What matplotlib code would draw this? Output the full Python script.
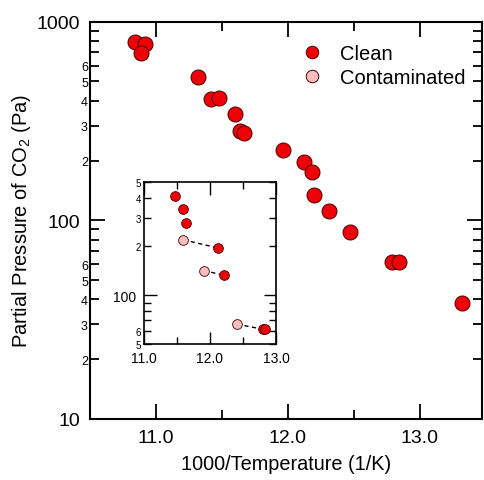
import matplotlib
matplotlib.use('Agg')
import math
import matplotlib.pyplot as plt
from matplotlib.ticker import FixedLocator, FuncFormatter, NullFormatter
from matplotlib.lines import Line2D

plt.rcParams['font.family'] = ['Liberation Sans', 'DejaVu Sans']

# main panel: clean samples
x_clean = [10.84, 10.917, 10.889, 11.32, 11.417, 11.48, 11.60, 11.64, 11.67,
           11.965, 12.124, 12.18, 12.197, 12.31, 12.47, 12.786, 12.843, 13.316]
y_clean = [793, 771, 695, 527, 408, 412, 344, 281, 276,
           226, 197, 175, 134, 111, 86.9, 61.8, 61.8, 38.5]

# inset: clean and contaminated
xi_clean = [11.477, 11.60, 11.64, 12.12, 12.21, 12.80, 12.84]
yi_clean = [407, 343, 281, 196, 133, 61.7, 61.7]
xi_cont = [11.60, 11.91, 12.41]
yi_cont = [220, 142, 66.3]
# pairs contaminated -> clean (index into xi_clean)
pair_idx = [3, 4, 5]

red = '#EE0008'
pink = '#F5BFC0'
edge = '#4a0000'


def minor_lab(v, pos):
    d = round(v / 10 ** math.floor(math.log10(v) + 1e-9))
    return str(d) if d in (2, 3, 4, 5, 6) else ''


fig = plt.figure(figsize=(4.84, 4.81), dpi=100)
ax = fig.add_axes([90/484, 1-420/481, 392/484, 397.3/481])

ax.plot(x_clean, y_clean, 'o', ms=10.8, mfc=red, mec=edge, mew=0.7, zorder=3)
ax.set_yscale('log')
ax.set_xlim(10.5, 13.47)
ax.set_ylim(10, 1000)

ax.yaxis.set_major_locator(FixedLocator([10, 100, 1000]))
ax.yaxis.set_major_formatter(FuncFormatter(lambda v, p: '%d' % v))
minors = [k * 10 ** e for e in (1, 2) for k in range(2, 10)]
ax.yaxis.set_minor_locator(FixedLocator(minors))
ax.yaxis.set_minor_formatter(FuncFormatter(minor_lab))

ax.xaxis.set_major_locator(FixedLocator([11.0, 12.0, 13.0]))
ax.xaxis.set_minor_locator(FixedLocator([11.5, 12.5]))
ax.xaxis.set_major_formatter(FuncFormatter(lambda v, p: '%.1f' % v))
ax.xaxis.set_minor_formatter(NullFormatter())

ax.tick_params(which='both', direction='in', top=True, right=True, width=1.3)
ax.tick_params(which='major', length=11, labelsize=14, pad=7)
ax.tick_params(which='minor', length=6.5)
ax.tick_params(axis='y', which='minor', labelsize=9, pad=1.5)
for s in ax.spines.values():
    s.set_linewidth(1.5)

ax.set_xlabel('1000/Temperature (1/K)', fontsize=14.3, labelpad=6)
ax.set_ylabel('Partial Pressure of CO$_\\mathregular{2}$ (Pa)', fontsize=14.5, labelpad=3)

handles = [Line2D([], [], ls='', marker='o', ms=9, mfc=red, mec=edge, mew=0.7),
           Line2D([], [], ls='', marker='o', ms=9, mfc=pink, mec=edge, mew=0.7)]
ax.legend(handles, ['Clean', 'Contaminated'], loc='upper left',
          bbox_to_anchor=(0.536, 0.943), frameon=False, fontsize=14.5,
          borderpad=0, borderaxespad=0, handlelength=1.2, handletextpad=0.8,
          labelspacing=0.25)

# inset
axi = fig.add_axes([143.5/484, 1-345/481, 132.5/484, 162/481])
for ci, k in enumerate(pair_idx):
    axi.plot([xi_cont[ci], xi_clean[k]], [yi_cont[ci], yi_clean[k]], '--',
             color='black', lw=1.0, dashes=(3, 2.5), zorder=2)
axi.plot(xi_clean, yi_clean, 'o', ms=7, mfc=red, mec=edge, mew=0.6, zorder=3)
axi.plot(xi_cont, yi_cont, 'o', ms=7, mfc=pink, mec=edge, mew=0.6, zorder=3)
axi.set_yscale('log')
axi.set_xlim(11.0, 13.0)
axi.set_ylim(50, 500)
axi.yaxis.set_major_locator(FixedLocator([100]))
axi.yaxis.set_major_formatter(FuncFormatter(lambda v, p: '%d' % v))
axi.yaxis.set_minor_locator(FixedLocator([50, 60, 70, 80, 90, 200, 300, 400, 500]))
axi.yaxis.set_minor_formatter(FuncFormatter(minor_lab))
axi.xaxis.set_major_locator(FixedLocator([11.0, 12.0, 13.0]))
axi.xaxis.set_minor_locator(FixedLocator([11.5, 12.5]))
axi.xaxis.set_major_formatter(FuncFormatter(lambda v, p: '%.1f' % v))
axi.xaxis.set_minor_formatter(NullFormatter())
axi.tick_params(which='both', direction='in', top=True, right=True, width=1.0)
axi.tick_params(which='major', length=9, labelsize=10, pad=5)
axi.tick_params(which='minor', length=5)
axi.tick_params(axis='y', which='minor', labelsize=7, pad=1.5)
for s in axi.spines.values():
    s.set_linewidth(1.2)

fig.savefig('out.png', dpi=100)
